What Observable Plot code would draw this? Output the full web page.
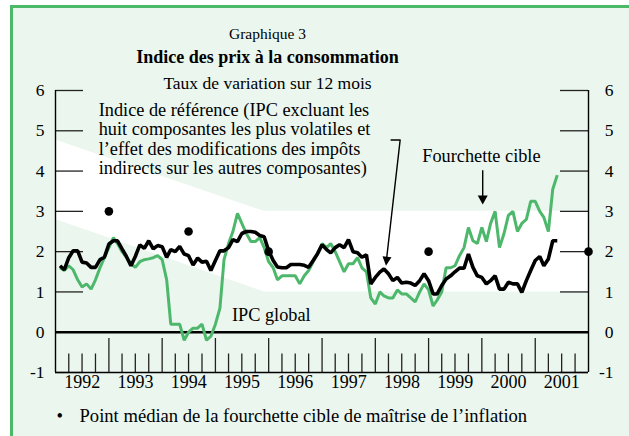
<!DOCTYPE html>
<html>
<head>
<meta charset="utf-8">
<script src="https://cdn.jsdelivr.net/npm/d3@7"></script>
<script src="https://cdn.jsdelivr.net/npm/@observablehq/plot@0.6"></script>
<style>
html, body { margin: 0; padding: 0; background: #fff; }
#wrap { position: relative; width: 629px; height: 436px; overflow: hidden; }
#panel { position: absolute; left: 10px; top: 5px; width: 660px; height: 470px;
  background: #ebf6ee; border-left: 3px solid #4cb968; border-top: 3px solid #4cb968; box-sizing: border-box; }
#chart { position: absolute; left: 0; top: 0; }
</style>
</head>
<body>
<div id="wrap">
  <div id="panel"></div>
  <div id="chart"></div>
</div>
<script>
// ---- Data (monthly, Jan 1992 onward) ----
// IPC global (green), 12-month rate of change
const ipcGlobal = [
  1.6, 1.53, 1.65, 1.55, 1.3, 1.12, 1.2, 1.07, 1.3, 1.6, 1.85, 2.1,      // 1992
  2.35, 2.2, 2.0, 1.86, 1.7, 1.61, 1.75, 1.8, 1.82, 1.85, 1.9, 1.8,      // 1993
  1.3, 0.2, 0.2, 0.2, -0.2, 0.0, 0.1, 0.1, 0.2, -0.2, -0.1, 0.2,         // 1994
  0.6, 1.8, 2.2, 2.5, 2.95, 2.7, 2.45, 2.25, 2.25, 2.35, 2.1, 1.75,      // 1995
  1.6, 1.3, 1.4, 1.4, 1.4, 1.4, 1.2, 1.4, 1.53, 1.75, 1.95, 2.2,         // 1996
  2.1, 2.2, 2.0, 1.75, 1.5, 1.7, 1.7, 1.85, 1.6, 1.5, 0.85, 0.7,         // 1997
  1.0, 0.9, 0.85, 0.85, 1.05, 0.95, 0.95, 0.85, 0.75, 1.0, 1.2, 1.05,    // 1998
  0.65, 0.8, 1.0, 1.6, 1.6, 1.65, 1.9, 2.1, 2.6, 2.27, 2.2, 2.6,         // 1999
  2.25, 2.7, 3.0, 2.1, 2.45, 2.9, 3.0, 2.5, 2.7, 2.8, 3.25, 3.25,        // 2000
  3.0, 2.85, 2.5, 3.55, 3.9                                              // 2001
];
// Indice de référence (black)
const indiceRef = [
  1.65, 1.55, 1.85, 2.02, 2.02, 1.74, 1.72, 1.61, 1.61, 1.8, 1.86, 2.19, // 1992
  2.27, 2.27, 2.07, 1.88, 1.65, 1.88, 2.17, 2.08, 2.27, 2.07, 2.15, 2.12,// 1993
  1.86, 2.05, 2.0, 2.13, 1.94, 1.9, 1.67, 1.84, 1.74, 1.76, 1.53, 1.78,  // 1994
  2.02, 2.02, 2.1, 2.3, 2.25, 2.45, 2.5, 2.5, 2.48, 2.4, 2.37, 2.02,     // 1995
  1.78, 1.62, 1.6, 1.6, 1.68, 1.68, 1.68, 1.66, 1.61, 1.78, 1.95, 2.17,  // 1996
  2.05, 1.97, 2.1, 2.17, 2.1, 2.3, 2.0, 1.97, 1.86, 1.92, 1.2, 1.36,     // 1997
  1.49, 1.57, 1.45, 1.28, 1.36, 1.22, 1.24, 1.22, 1.16, 1.28, 1.45, 1.28,// 1998
  0.95, 0.95, 1.16, 1.32, 1.4, 1.5, 1.59, 1.59, 1.94, 1.61, 1.4, 1.36,   // 1999
  1.2, 1.28, 1.4, 1.07, 1.07, 1.24, 1.2, 1.2, 0.99, 1.28, 1.53, 1.78,    // 2000
  1.88, 1.65, 1.82, 2.27, 2.27                                           // 2001
];
// Target midpoints (year, month index, value)
const targetYears = [1993, 1994, 1996, 1999, 2002];
const targetMonths = [0, 6, 0, 0, 0];
const targetValues = [3, 2.5, 2, 2, 2];
// Target band (fourchette cible) vertices
const bandYears = [1992, 1995, 2002];
const bandMonths = [0, 11, 0];
const bandHigh = [4.77, 3.0, 3.0];
const bandLow = [2.8, 1.0, 1.0];
// Axis labels
const yTicks = [-1, 0, 1, 2, 3, 4, 5, 6];
const yearLabels = ["1992","1993","1994","1995","1996","1997","1998","1999","2000","2001"];
// Texts
const surtitre = "Graphique 3";
const titre = "Indice des prix à la consommation";
const sousTitre = "Taux de variation sur 12 mois";
const legende = "Point médian de la fourchette cible de maîtrise de l’inflation";

// ---- Build tables ----
const U = (y, m, d = 1) => new Date(Date.UTC(y, m, d));
const rows = ipcGlobal.map((v, i) => ({date: U(1992, i + 1), total: v, core: indiceRef[i]}));
const targets = targetYears.map((y, i) => ({date: U(y, targetMonths[i]), value: targetValues[i]}));
const band = bandYears.map((y, i) => ({date: U(y, bandMonths[i]), hi: bandHigh[i], lo: bandLow[i]}));
const years = yearLabels.map(s => +s);
const yearMid = years.map(y => ({label: String(y), date: new Date((Date.UTC(y, 0, 1) + Date.UTC(y + 1, 0, 1)) / 2)}));
const yearBounds = d3.range(1993, 2002).map(y => U(y, 0));
const quarterTicks = d3.range(1992, 2002).flatMap(y => [3, 6, 9].map(m => U(y, m)));

function head(angleDeg, len, half) {
  const a = angleDeg * Math.PI / 180, c = Math.cos(a), s = Math.sin(a);
  const rot = (x, y) => [x * c - y * s, x * s + y * c];
  return {draw(ctx) {
    const p0 = rot(0, 0), p1 = rot(-half, -len), p2 = rot(half, -len);
    ctx.moveTo(p0[0], p0[1]); ctx.lineTo(p1[0], p1[1]); ctx.lineTo(p2[0], p2[1]); ctx.closePath();
  }};
}

const arrow1 = [
  {date: U(1998, 3, 19), v: 4.77},
  {date: U(1998, 5, 20), v: 4.77},
  {date: U(1998, 2, 17), v: 1.75}
];
const arrow1Tip = [{date: U(1998, 2, 15), v: 1.65}];
const arrow2 = [{date: U(2000, 0, 7), v: 4.01}, {date: U(2000, 0, 7), v: 3.3}];
const arrow2Tip = [{date: U(2000, 0, 7), v: 3.17}];

const FF = "Liberation Serif, Times New Roman, serif";
const T = (s, o) => Plot.text([s], {text: d => d, fill: "#000", fontFamily: FF, ...o});
const chart = Plot.plot({
  width: 629, height: 436,
  marginLeft: 55, marginRight: 41, marginTop: 90, marginBottom: 64,
  style: {background: "transparent", fontFamily: FF, overflow: "visible"},
  x: {type: "utc", domain: [U(1992, 0), U(2002, 0)], axis: null},
  y: {domain: [-1, 6], axis: null},
  marks: [
    Plot.area(band, {x1: "date", y1: "lo", y2: "hi", fill: "white"}),
    Plot.tickX(quarterTicks, {x: d => d, insetTop: 263.5, stroke: "#222", strokeWidth: 1.3}),
    Plot.tickX(yearBounds, {x: d => d, insetTop: 248, stroke: "#222", strokeWidth: 1.3}),
    Plot.tickY(yTicks, {y: d => d, insetRight: 505, stroke: "#222", strokeWidth: 1.3}),
    Plot.tickY(yTicks, {y: d => d, insetLeft: 505, stroke: "#222", strokeWidth: 1.3}),
    Plot.ruleX([U(1992, 0), U(2002, 0)], {y1: -1, y2: 6, stroke: "#000", strokeWidth: 1.4}),
    Plot.ruleY([-1], {stroke: "#000", strokeWidth: 1.4}),
    Plot.ruleY([0], {stroke: "#000", strokeWidth: 2.4}),
    Plot.line(rows, {x: "date", y: "total", stroke: "#4db86b", strokeWidth: 3, strokeLinejoin: "miter", strokeLinecap: "butt"}),
    Plot.line(rows, {x: "date", y: "core", stroke: "#000", strokeWidth: 3.6, strokeLinejoin: "miter", strokeLinecap: "butt"}),
    Plot.dot(targets, {x: "date", y: "value", r: 4.3, fill: "#000", stroke: null}),
    Plot.line(arrow1, {x: "date", y: "v", stroke: "#000", strokeWidth: 1.4}),
    Plot.dot(arrow1Tip, {x: "date", y: "v", symbol: head(6.4, 9, 4.5), r: 5, fill: "#000", stroke: null}),
    Plot.line(arrow2, {x: "date", y: "v", stroke: "#000", strokeWidth: 1.4}),
    Plot.dot(arrow2Tip, {x: "date", y: "v", symbol: head(0, 9, 5), r: 5, fill: "#000", stroke: null}),
    T("Indice de référence (IPC excluant les\nhuit composantes les plus volatiles et\nl’effet des modifications des impôts\nindirects sur les autres composantes)",
      {x: U(1992, 9, 23), y: 5.70, textAnchor: "start", lineAnchor: "top", lineHeight: 1.05, fontSize: 18.3}),
    T("Fourchette cible", {x: U(1999, 11, 29), y: 4.36, textAnchor: "middle", fontSize: 18.3}),
    T("IPC global", {x: U(1995, 3, 24), y: 0.43, textAnchor: "start", fontSize: 18.3}),
    // titles (above the frame) and legend (below)
    T(surtitre, {frameAnchor: "top", dx: -54.5, dy: -51.5, lineAnchor: "bottom", textAnchor: "middle", fontSize: 15.5}),
    T(titre, {frameAnchor: "top", dx: -54.5, dy: -28, lineAnchor: "bottom", textAnchor: "middle", fontSize: 18, fontWeight: "bold"}),
    T(sousTitre, {frameAnchor: "top", dx: -54.5, dy: -2, lineAnchor: "bottom", textAnchor: "middle", fontSize: 17.5}),
    T("•", {frameAnchor: "bottom-left", dx: 4.3, dy: 49, lineAnchor: "bottom", textAnchor: "middle", fontSize: 18.6}),
    T(legende, {frameAnchor: "bottom-left", dx: 24, dy: 49, lineAnchor: "bottom", textAnchor: "start", fontSize: 18.6}),
    // axis labels
    Plot.text(yTicks, {y: d => d, text: d => String(d), frameAnchor: "left", dx: -11, textAnchor: "end", fontSize: 17.5, fill: "#000", fontFamily: FF}),
    Plot.text(yTicks, {y: d => d, text: d => String(d), frameAnchor: "right", dx: 25, textAnchor: "end", fontSize: 17.5, fill: "#000", fontFamily: FF}),
    Plot.text(yearMid, {x: "date", text: "label", frameAnchor: "bottom", dy: 15.6, fontSize: 18, fill: "#000", fontFamily: FF})
  ]
});
document.getElementById("chart").appendChild(chart);
</script>
</body>
</html>
